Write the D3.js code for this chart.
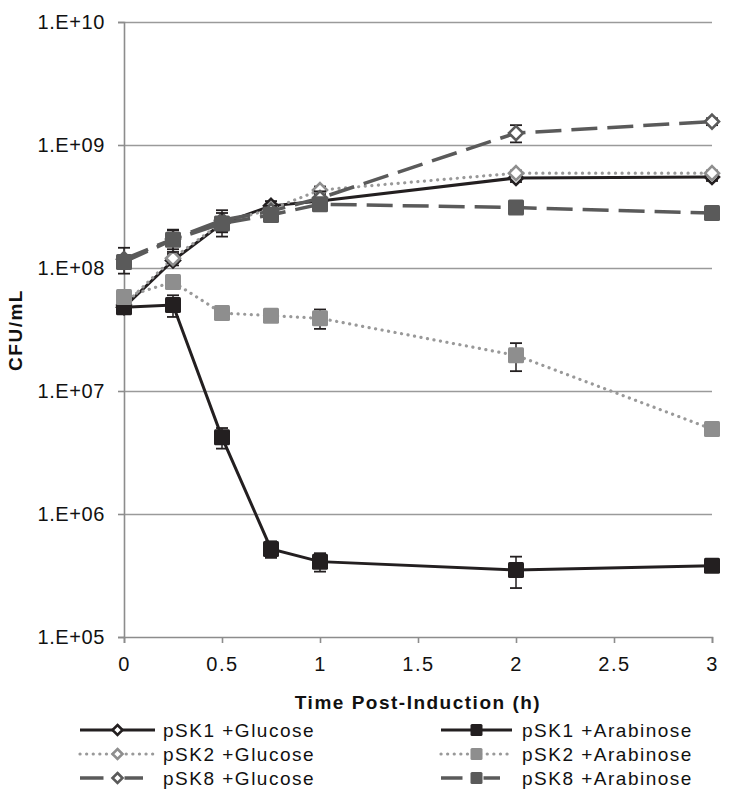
<!DOCTYPE html>
<html>
<head>
<meta charset="utf-8">
<script src="https://cdn.jsdelivr.net/npm/d3@7"></script>
<style>
  html, body { margin: 0; padding: 0; background: #fff; }
  svg { display: block; font-family: "Liberation Sans", Arial, sans-serif; }
  text { letter-spacing: 1.5px; }
</style>
</head>
<body>
<svg id="chart" width="730" height="798"></svg>
<script>
// ---- data ----
const times = [0, 0.25, 0.5, 0.75, 1, 2, 3];
const xTicks = [0, 0.5, 1, 1.5, 2, 2.5, 3];
const yTicks = [1e5, 1e6, 1e7, 1e8, 1e9, 1e10];
const yTickLabels = ["1.E+05", "1.E+06", "1.E+07", "1.E+08", "1.E+09", "1.E+10"];

const seriesNames = ["pSK1 +Glucose", "pSK2 +Glucose", "pSK8 +Glucose",
                     "pSK1 +Arabinose", "pSK2 +Arabinose", "pSK8 +Arabinose"];

const pSK1Glu = [4.8e7, 1.15e8, 2.3e8, 3.2e8, 3.5e8, 5.4e8, 5.5e8];
const pSK2Glu = [5.0e7, 1.2e8, 2.35e8, 3.0e8, 4.3e8, 5.9e8, 5.9e8];
const pSK8Glu = [1.18e8, 1.72e8, 2.45e8, 2.9e8, 3.7e8, 1.25e9, 1.55e9];
const pSK1Ara = [4.8e7, 5.0e7, 4.2e6, 5.2e5, 4.1e5, 3.5e5, 3.8e5];
const pSK2Ara = [5.8e7, 7.7e7, 4.3e7, 4.1e7, 3.9e7, 1.95e7, 4.9e6];
const pSK8Ara = [1.12e8, 1.7e8, 2.3e8, 2.7e8, 3.3e8, 3.1e8, 2.8e8];

const pSK1GluErr = [3e6, 1e7, 3e7, 3e7, 3e7, 4e7, 4e7];
const pSK2GluErr = [3e6, 1e7, 2e7, 2e7, 3e7, 3e7, 3e7];
const pSK8GluErr = [2.8e7, 3e7, 5e7, 3e7, 5e7, 2e8, 1e8];
const pSK1AraErr = [2e6, 1e7, 8e5, 8e4, 7e4, 1e5, 2e4];
const pSK2AraErr = [3e6, 5e6, 2e6, 2e6, 7e6, 5e6, 4e5];
const pSK8AraErr = [1e7, 3.5e7, 5e7, 2e7, 2e7, 1e7, 1e7];

// ---- styles ----
const BLACK = "#231f20", LIGHT = "#8e8e8e", DARK = "#5a5a5a";
const styles = [
  {color: BLACK, dash: null, marker: "diamond", width: 3, errColor: BLACK, lineColor: BLACK},
  {color: LIGHT, dash: "0.1 6.5", marker: "diamond", width: 3.2, errColor: BLACK, lineColor: "#999"},
  {color: DARK, dash: "26 10", marker: "diamond", width: 3.5, errColor: BLACK, lineColor: DARK},
  {color: BLACK, dash: null, marker: "square", width: 3, errColor: BLACK, lineColor: BLACK},
  {color: LIGHT, dash: "0.1 6.5", marker: "square", width: 3.2, errColor: BLACK, lineColor: "#999"},
  {color: DARK, dash: "26 10", marker: "square", width: 3.5, errColor: BLACK, lineColor: DARK}
];
const values = [pSK1Glu, pSK2Glu, pSK8Glu, pSK1Ara, pSK2Ara, pSK8Ara];
const errs = [pSK1GluErr, pSK2GluErr, pSK8GluErr, pSK1AraErr, pSK2AraErr, pSK8AraErr];

const svg = d3.select("#chart");
const x = d3.scaleLinear().domain([0, 3]).range([124, 712]);
const y = d3.scaleLog().domain([1e5, 1e10]).range([637, 22]);

// gridlines
svg.append("g")
  .attr("transform", "translate(124,0)")
  .call(d3.axisLeft(y).tickValues(yTicks.slice(1)).tickSize(-588).tickFormat(""))
  .call(g => g.select(".domain").remove())
  .call(g => g.selectAll("line").attr("stroke", "#9a9a9a").attr("stroke-width", 1.6));

// y axis
const yAxis = svg.append("g")
  .attr("transform", "translate(124,0)")
  .call(d3.axisLeft(y).tickValues(yTicks).tickSize(6).tickPadding(13)
        .tickFormat((d, i) => yTickLabels[i]));
yAxis.select(".domain").attr("stroke", "#8c8c8c").attr("stroke-width", 1.6);
yAxis.selectAll("line").attr("stroke", "#8c8c8c").attr("stroke-width", 1.6);
yAxis.selectAll("text").attr("font-size", 20).attr("fill", "#111")
  .style("letter-spacing", "0.6px")
  .attr("font-family", "'Liberation Sans', Arial, sans-serif");

// x axis
const xAxis = svg.append("g")
  .attr("transform", "translate(0,637)")
  .call(d3.axisBottom(x).tickValues(xTicks).tickSize(6).tickPadding(14)
        .tickFormat(d3.format("")));
xAxis.select(".domain").attr("stroke", "#8c8c8c").attr("stroke-width", 1.6);
xAxis.selectAll("line").attr("stroke", "#8c8c8c").attr("stroke-width", 1.6);
xAxis.selectAll("text").attr("font-size", 20).attr("fill", "#111")
  .style("letter-spacing", "1.5px")
  .attr("font-family", "'Liberation Sans', Arial, sans-serif");

// axis titles
svg.append("text")
  .attr("x", x(1.5)).attr("y", 709)
  .attr("text-anchor", "middle").attr("font-size", 19).attr("font-weight", "bold")
  .attr("fill", "#111")
  .text("Time Post-Induction (h)");
svg.append("text")
  .attr("transform", "translate(22,330) rotate(-90)")
  .attr("text-anchor", "middle").attr("font-size", 19).attr("font-weight", "bold")
  .attr("fill", "#111")
  .text("CFU/mL");

const line = d3.line().x((d, i) => x(times[i])).y(d => y(d));

function drawMarker(g, type, cx, cy, st, legend) {
  if (type === "square") {
    const s = legend ? 12 : 16;
    g.append("rect").attr("x", cx - s / 2).attr("y", cy - s / 2)
      .attr("width", s).attr("height", s).attr("rx", 1.5)
      .attr("fill", st.color);
  } else {
    const s = legend ? 5 : 7;
    g.append("path")
      .attr("d", `M${cx},${cy - s}L${cx + s},${cy}L${cx},${cy + s}L${cx - s},${cy}Z`)
      .attr("fill", "#fff").attr("stroke", st.color).attr("stroke-width", 2.6);
  }
}

values.forEach((vals, si) => {
  const st = styles[si];
  const g = svg.append("g");
  g.append("path").datum(vals)
    .attr("d", line)
    .attr("fill", "none")
    .attr("stroke", st.lineColor)
    .attr("stroke-width", st.width)
    .attr("stroke-linecap", st.dash && st.dash.startsWith("0.1") ? "round" : "butt")
    .attr("stroke-dasharray", st.dash);
  // error bars
  vals.forEach((v, i) => {
    const e = errs[si][i];
    const cx = x(times[i]);
    const lo = Math.max(v - e, 1e5), hi = v + e;
    g.append("line").attr("x1", cx).attr("x2", cx)
      .attr("y1", y(lo)).attr("y2", y(hi))
      .attr("stroke", st.errColor).attr("stroke-width", 1.5);
    [lo, hi].forEach(b => {
      g.append("line").attr("x1", cx - 6).attr("x2", cx + 6)
        .attr("y1", y(b)).attr("y2", y(b))
        .attr("stroke", st.errColor).attr("stroke-width", 1.8);
    });
  });
  vals.forEach((v, i) => drawMarker(g, st.marker, x(times[i]), y(v), st, false));
});

// legend
const legendCols = [{x0: 80, x1: 155, tx: 163}, {x0: 441, x1: 512, tx: 522}];
const legendRows = [730, 754, 778];
seriesNames.forEach((name, si) => {
  const col = legendCols[Math.floor(si / 3)];
  const cy = legendRows[si % 3];
  const st = styles[si];
  const g = svg.append("g");
  const mid = (col.x0 + col.x1) / 2;
  let segs = [[col.x0, col.x1]], dash = null, cap = "butt";
  if (st.dash && st.dash.startsWith("0.1")) { dash = st.dash; cap = "round"; }
  else if (st.dash) { segs = [[col.x0, mid - 14], [mid + 7, col.x1 - 12]]; }
  segs.forEach(([a, b]) => {
    g.append("line").attr("x1", a).attr("x2", b).attr("y1", cy).attr("y2", cy)
      .attr("stroke", st.lineColor).attr("stroke-width", st.width)
      .attr("stroke-linecap", cap)
      .attr("stroke-dasharray", dash);
  });
  drawMarker(g, st.marker, mid, cy, st, true);
  g.append("text").attr("x", col.tx).attr("y", cy + 7)
    .attr("font-size", 19).attr("fill", "#111").text(name);
});
</script>
</body>
</html>
